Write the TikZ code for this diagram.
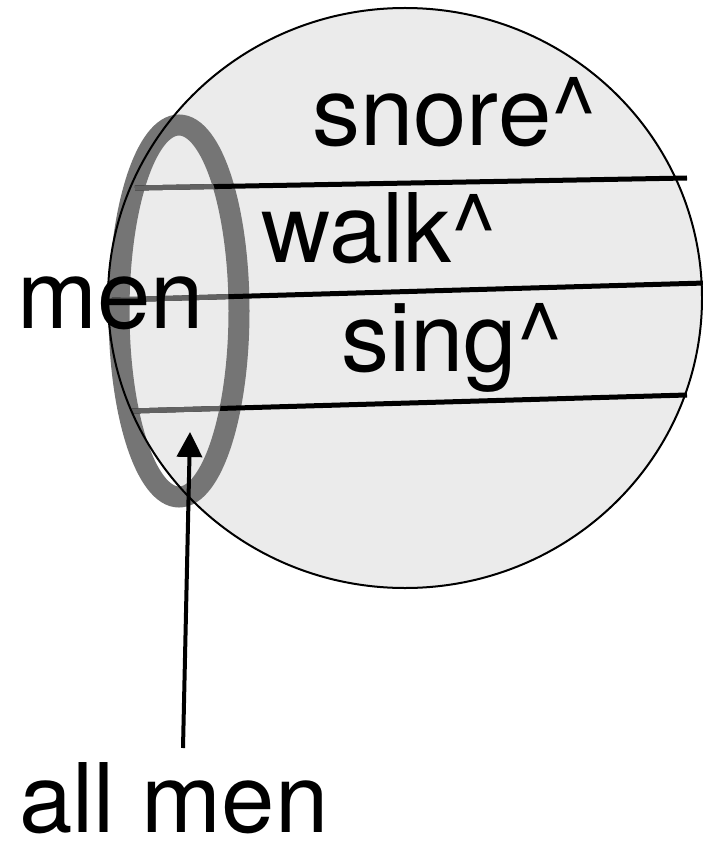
\documentclass[tikz,border=0pt]{standalone}
\usepackage{fontspec}
\setmainfont{TeX Gyre Heros}
\usetikzlibrary{arrows.meta}
\definecolor{fillgray}{RGB}{235,235,235}
\definecolor{ringgray}{RGB}{117,117,117}
\definecolor{linegray}{RGB}{98,98,98}
\begin{document}
\begin{tikzpicture}[x=1pt,y=-1pt,
  lbl/.style={font=\fontsize{96}{116}\selectfont, inner sep=0pt, anchor=base west},
  rule/.style={line width=5pt},
  pointer/.style={line width=4pt, -{Triangle[length=25pt,width=25pt]}}]
\useasboundingbox (0,0) rectangle (703,842);
% big set
\fill[fillgray] (405,298) ellipse [x radius=297, y radius=290];
% ring "all men"
\draw[ringgray, line width=21pt] (179,311) ellipse [x radius=60, y radius=186];
% dividing lines
\coordinate (a1) at (135,188); \coordinate (b1) at (687,178);
\coordinate (a2) at (112,300); \coordinate (b2) at (705,283);
\coordinate (a3) at (132,411); \coordinate (b3) at (687,395);
\draw[rule] (a1) -- (b1);
\draw[rule] (a2) -- (b2);
\draw[rule] (a3) -- (b3);
\begin{scope}
  \clip (179,311) ellipse [x radius=49.5, y radius=175.5];
  \draw[rule, linegray] (a1) -- (b1);
  \draw[rule, linegray] (a2) -- (b2);
  \draw[rule, linegray] (a3) -- (b3);
\end{scope}
\begin{scope}
  \clip (0,0) rectangle (179,842);
  \draw[rule, linegray] (a1) -- (b1);
  \draw[rule, linegray] (a2) -- (b2);
  \draw[rule, linegray] (a3) -- (b3);
\end{scope}
% border of big set
\draw[line width=2pt] (405,298) ellipse [x radius=297, y radius=290];
% labels
\node[lbl] (snore) at (312,146) {snore\textasciicircum};
\node[lbl] (walk) at (261,262) {walk\textasciicircum};
\node[lbl] (men) at (17,328) {men};
\node[lbl] (sing) at (341,371) {sing\textasciicircum};
\node[lbl] (allmen) at (19,832) {all men};
% arrow
\coordinate (tail) at (183,748);
\coordinate (tip) at (190,432);
\draw[pointer] (tail) -- (tip);
\end{tikzpicture}
\end{document}
